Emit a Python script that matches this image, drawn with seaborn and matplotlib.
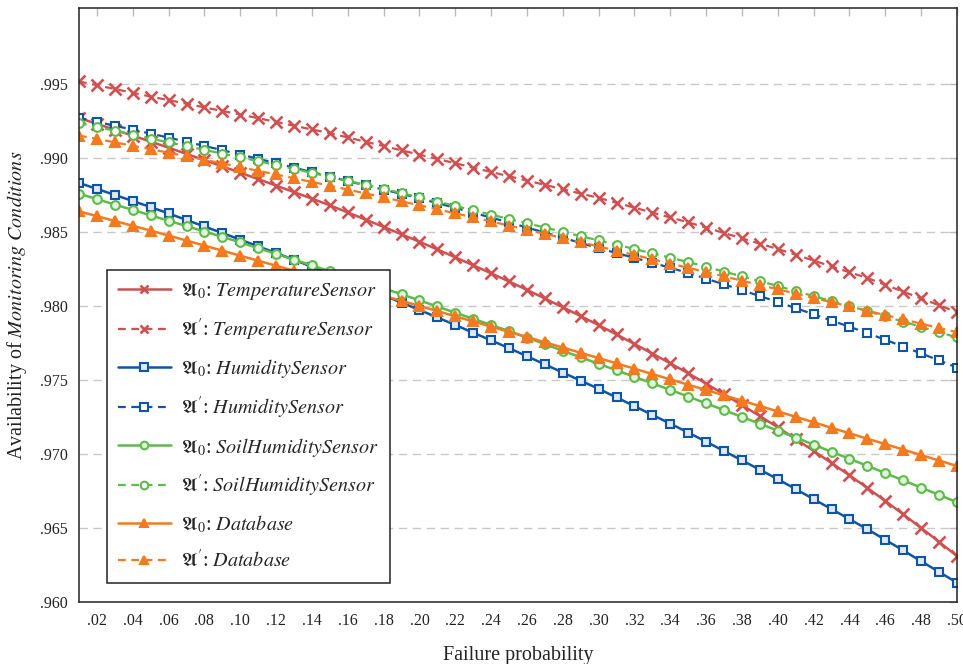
import numpy as np
import pandas as pd
import matplotlib
matplotlib.use("Agg")
import matplotlib.pyplot as plt
import seaborn as sns
from matplotlib.ticker import FuncFormatter

# ---------------- data ----------------
failure_prob = [round(0.01 * i, 2) for i in range(1, 51)]

a0_temperature = [
    .99268, .99228, .99188, .99148, .99108, .99067, .99025, .98983, .98941, .98898,
    .98855, .98811, .98767, .98723, .98678, .98630, .98581, .98532, .98482, .98432,
    .98380, .98327, .98273, .98219, .98164, .98107, .98049, .97990, .97930, .97869,
    .97806, .97742, .97677, .97611, .97544, .97474, .97402, .97329, .97255, .97179,
    .97100, .97020, .96938, .96855, .96770, .96682, .96592, .96500, .96406, .96310]

ap_temperature = [
    .99514, .99489, .99463, .99438, .99412, .99388, .99364, .99339, .99315, .99291,
    .99266, .99241, .99215, .99190, .99165, .99136, .99107, .99078, .99049, .99020,
    .98991, .98962, .98932, .98903, .98874, .98845, .98816, .98786, .98757, .98728,
    .98695, .98662, .98629, .98596, .98563, .98527, .98491, .98455, .98419, .98383,
    .98344, .98305, .98265, .98226, .98187, .98141, .98095, .98049, .98003, .97957]

a0_humidity = [
    .98829, .98789, .98748, .98707, .98666, .98623, .98579, .98535, .98491, .98446,
    .98401, .98356, .98310, .98263, .98215, .98167, .98119, .98070, .98021, .97972,
    .97921, .97870, .97818, .97766, .97714, .97659, .97604, .97549, .97494, .97439,
    .97381, .97322, .97263, .97204, .97144, .97082, .97019, .96956, .96893, .96829,
    .96762, .96694, .96627, .96559, .96491, .96420, .96348, .96275, .96203, .96130]

ap_humidity = [
    .99268, .99242, .99215, .99189, .99162, .99135, .99107, .99079, .99050, .99021,
    .98992, .98962, .98932, .98902, .98872, .98842, .98812, .98784, .98755, .98725,
    .98693, .98661, .98628, .98595, .98562, .98528, .98494, .98459, .98424, .98388,
    .98356, .98323, .98290, .98256, .98221, .98183, .98144, .98105, .98065, .98025,
    .97984, .97942, .97900, .97858, .97815, .97770, .97724, .97678, .97631, .97583]

a0_soil = [
    .98757, .98720, .98683, .98647, .98610, .98574, .98538, .98501, .98465, .98428,
    .98389, .98350, .98311, .98272, .98233, .98194, .98155, .98117, .98078, .98036,
    .97995, .97953, .97912, .97870, .97829, .97785, .97741, .97696, .97652, .97608,
    .97564, .97520, .97476, .97432, .97387, .97341, .97295, .97249, .97203, .97157,
    .97110, .97062, .97014, .96967, .96919, .96870, .96821, .96772, .96723, .96674]

ap_soil = [
    .99234, .99208, .99181, .99155, .99128, .99103, .99078, .99052, .99027, .99002,
    .98976, .98950, .98924, .98897, .98870, .98843, .98816, .98789, .98761, .98732,
    .98703, .98674, .98645, .98615, .98586, .98557, .98528, .98499, .98470, .98441,
    .98412, .98383, .98353, .98324, .98295, .98263, .98231, .98198, .98166, .98133,
    .98099, .98065, .98032, .97998, .97964, .97928, .97893, .97857, .97822, .97786]

a0_database = [
    .98637, .98605, .98572, .98540, .98507, .98474, .98440, .98406, .98372, .98338,
    .98304, .98270, .98236, .98203, .98169, .98135, .98101, .98067, .98033, .97999,
    .97964, .97929, .97894, .97859, .97824, .97789, .97753, .97718, .97682, .97647,
    .97611, .97575, .97539, .97503, .97467, .97431, .97395, .97359, .97323, .97287,
    .97250, .97213, .97176, .97139, .97102, .97066, .97029, .96992, .96955, .96918]

ap_database = [
    .99149, .99126, .99103, .99080, .99057, .99033, .99009, .98985, .98961, .98936,
    .98911, .98886, .98861, .98836, .98810, .98784, .98758, .98732, .98705, .98678,
    .98651, .98624, .98597, .98569, .98541, .98513, .98485, .98457, .98429, .98400,
    .98372, .98343, .98314, .98285, .98256, .98227, .98198, .98169, .98140, .98111,
    .98082, .98053, .98024, .97995, .97966, .97937, .97908, .97879, .97850, .97821]

x_ticks = [round(0.02 * i, 2) for i in range(1, 26)]
y_ticks = [.960, .965, .970, .975, .980, .985, .990, .995]

# ---------------- style ----------------
sns.set_theme(style="white")
plt.rcParams["font.family"] = ["Liberation Serif", "DejaVu Serif"]
plt.rcParams["mathtext.fontset"] = "stix"

RED = "#cf5050"
BLUE = "#0f55a6"
GREEN = "#5dbb4a"
ORANGE = "#f47a1f"

series = [
    (a0_temperature, r"$\mathfrak{A}_0$: $\mathit{TemperatureSensor}$", RED, "x", "-", None),
    (ap_temperature, r"$\mathfrak{A}'$: $\mathit{TemperatureSensor}$", RED, "x", "--", None),
    (a0_humidity, r"$\mathfrak{A}_0$: $\mathit{HumiditySensor}$", BLUE, "s", "-", "#dfe8f4"),
    (ap_humidity, r"$\mathfrak{A}'$: $\mathit{HumiditySensor}$", BLUE, "s", "--", "#ffffff"),
    (a0_soil, r"$\mathfrak{A}_0$: $\mathit{SoilHumiditySensor}$", GREEN, "o", "-", "#e3f3df"),
    (ap_soil, r"$\mathfrak{A}'$: $\mathit{SoilHumiditySensor}$", GREEN, "o", "--", "#ffffff"),
    (a0_database, r"$\mathfrak{A}_0$: $\mathit{Database}$", ORANGE, "^", "-", None),
    (ap_database, r"$\mathfrak{A}'$: $\mathit{Database}$", ORANGE, "^", "--", None),
]

fig = plt.figure(figsize=(9.63, 6.64), dpi=100)
ax = fig.add_axes([79 / 963, 1 - 602 / 664, (957 - 79) / 963, (602 - 8) / 664])

for vals, label, color, marker, ls, mfc in series:
    kw = dict(color=color, marker=marker, markeredgecolor=color,
              markersize=8 if marker == "x" else 7,
              markeredgewidth=1.9 if marker == "x" else 1.5,
              linewidth=1.8 if ls == "-" else 1.6)
    if mfc is not None:
        kw["markerfacecolor"] = mfc
        kw["markersize"] = 6.3
    else:
        kw["markerfacecolor"] = color
    kw["linestyle"] = "-" if ls == "-" else (0, (3.5, 2.5))
    sns.lineplot(x=failure_prob, y=vals, ax=ax, label=label, **kw)

ax.set_xlim(0.01, 0.50)
ax.set_ylim(0.960, 1.0001)
ax.set_xticks(x_ticks)
ax.set_yticks(y_ticks)
ax.xaxis.set_major_formatter(FuncFormatter(lambda v, p: f"{v:.2f}"[1:]))
ax.yaxis.set_major_formatter(FuncFormatter(lambda v, p: f"{v:.3f}"[1:]))
ax.tick_params(axis="both", which="major", direction="in", length=6, width=1,
               color="#bbbbbb", labelsize=11.5, labelcolor="#222222",
               top=True, right=True, pad=8)
ax.yaxis.grid(True, linestyle=(0, (6, 4)), color="#c8c8c8", linewidth=1)
ax.xaxis.grid(False)
for s in ax.spines.values():
    s.set_color("#222222")
    s.set_linewidth(1.1)

ax.set_xlabel("Failure probability", fontsize=14.5, labelpad=12, color="#222222")
ax.set_ylabel(r"Availability of $\mathit{Monitoring\ Conditions}$", fontsize=14.5,
              labelpad=8, color="#222222")

leg = ax.legend(loc="lower left", bbox_to_anchor=(0.032, 0.032), fontsize=14.5,
                frameon=True, fancybox=False, edgecolor="#222222", framealpha=1.0,
                handlelength=2.6, labelspacing=0.72, borderpad=0.55,
                handletextpad=0.5, borderaxespad=0)
leg.get_frame().set_linewidth(1.1)
for h in leg.get_lines():
    h.set_markersize(5.5)

fig.savefig("out.png", dpi=100)
